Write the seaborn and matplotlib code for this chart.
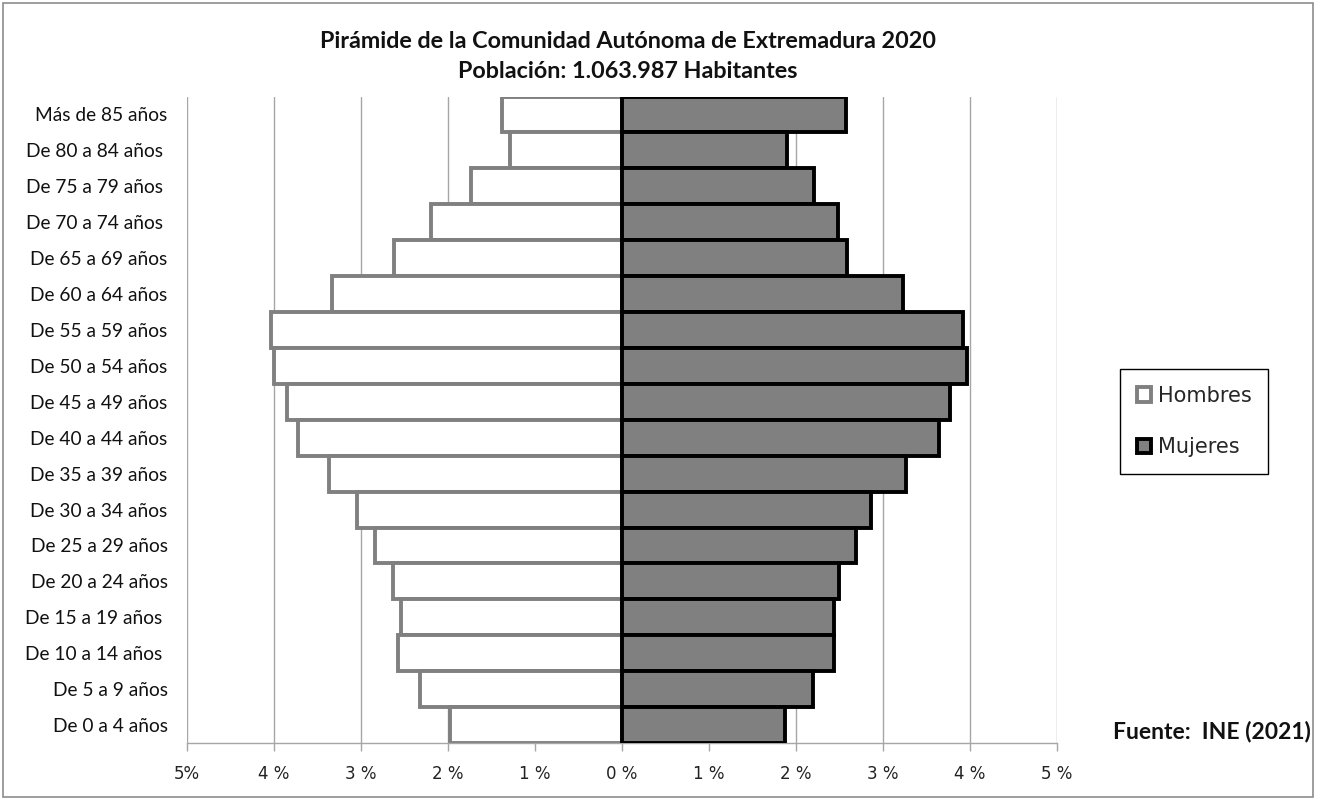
import numpy as np
import pandas as pd
import matplotlib
matplotlib.use("Agg")
import matplotlib.pyplot as plt
import seaborn as sns
from matplotlib.patches import Rectangle

# grupos de edad (de arriba a abajo)
grupos = ["Más de 85 años", "De 80 a 84 años ", "De 75 a 79 años ", "De 70 a 74 años ",
          "De 65 a 69 años", "De 60 a 64 años", "De 55 a 59 años", "De 50 a 54 años",
          "De 45 a 49 años", "De 40 a 44 años", "De 35 a 39 años", "De 30 a 34 años",
          "De 25 a 29 años", "De 20 a 24 años", "De 15 a 19 años ", "De 10 a 14 años ",
          "De 5 a 9 años", "De 0 a 4 años"]

# porcentajes sobre la poblacion total
hombres = [1.38, 1.29, 1.74, 2.20, 2.62, 3.33, 4.03, 4.00, 3.85, 3.72,
           3.37, 3.05, 2.84, 2.63, 2.54, 2.58, 2.32, 1.98]
mujeres = [2.57, 1.90, 2.21, 2.48, 2.59, 3.23, 3.92, 3.97, 3.77, 3.64,
           3.27, 2.86, 2.69, 2.49, 2.44, 2.44, 2.20, 1.87]

ticks_x = [-5, -4, -3, -2, -1, 0, 1, 2, 3, 4, 5]
ticks_lbl = ["5%", "4 %", "3 %", "2 %", "1 %", "0 %", "1 %", "2 %", "3 %", "4 %", "5 %"]

df = pd.DataFrame({"grupo": grupos, "hombres": hombres, "mujeres": mujeres})
df["hombres_neg"] = -df["hombres"]

sns.set_style("white")
plt.rcParams["font.family"] = ["Lato", "DejaVu Sans"]

fig = plt.figure(figsize=(13.17, 8), dpi=100)
ax = fig.add_axes([187 / 1317, 1 - 743 / 800, (1057 - 187) / 1317, (743 - 96.5) / 800])

# lineas verticales de la cuadricula
for t in ticks_x:
    ax.axvline(t, color="#a6a6a6", lw=1.0, zorder=0)

sns.barplot(data=df, x="hombres_neg", y="grupo", orient="h", width=1.0,
            color="white", edgecolor="#808080", linewidth=2.8, saturation=1,
            label="Hombres", ax=ax, zorder=2)
sns.barplot(data=df, x="mujeres", y="grupo", orient="h", width=1.0,
            color="#808080", edgecolor="black", linewidth=2.8, saturation=1,
            label="Mujeres", ax=ax, zorder=3)

ax.set_xlim(-5, 5)
ax.set_ylim(len(grupos) - 0.5, -0.5)
ax.set_xticks(ticks_x)
ax.set_xticklabels(ticks_lbl, family=["DejaVu Sans"], fontsize=12, color="#222222")
ax.set_xlabel("")
ax.set_ylabel("")
ax.tick_params(axis="y", length=0, pad=14, labelsize=13.8, labelcolor="#111111")
ax.tick_params(axis="x", length=6, width=1, color="#a6a6a6", pad=10, bottom=True)
for s in ["top", "right", "left"]:
    ax.spines[s].set_visible(False)
ax.spines["bottom"].set_color("#a6a6a6")
ax.spines["bottom"].set_linewidth(1)
if ax.legend_:
    ax.legend_.remove()

# leyenda
handles, labels = ax.get_legend_handles_labels()
leg = fig.legend(handles, labels, loc="center", bbox_to_anchor=(1194 / 1317, 1 - 421.5 / 800),
                 frameon=True, fancybox=False, framealpha=1, edgecolor="black",
                 handlelength=0.7, handleheight=0.7, handletextpad=0.3,
                 labelspacing=1.5, borderpad=0.8,
                 prop={"family": "DejaVu Sans", "size": 15})
leg.get_frame().set_linewidth(1)

# titulos
fig.text(628 / 1317, 1 - 42 / 800, "Pirámide de la Comunidad Autónoma de Extremadura 2020",
         ha="center", va="center", fontsize=16.8, fontweight="bold", color="#111111")
fig.text(628 / 1317, 1 - 71 / 800, "Población: 1.063.987 Habitantes",
         ha="center", va="center", fontsize=16.8, fontweight="bold", color="#111111")
fig.text(1311 / 1317, 1 - 732 / 800, "Fuente:  INE (2021)",
         ha="right", va="center", fontsize=16.5, fontweight="bold", color="#111111")

# borde del grafico
fig.add_artist(Rectangle((3 / 1317, 3 / 800), 1310 / 1317, 794 / 800,
                         transform=fig.transFigure, fill=False, edgecolor="#8c8c8c", lw=1.2))

fig.savefig("out.png", dpi=100)
